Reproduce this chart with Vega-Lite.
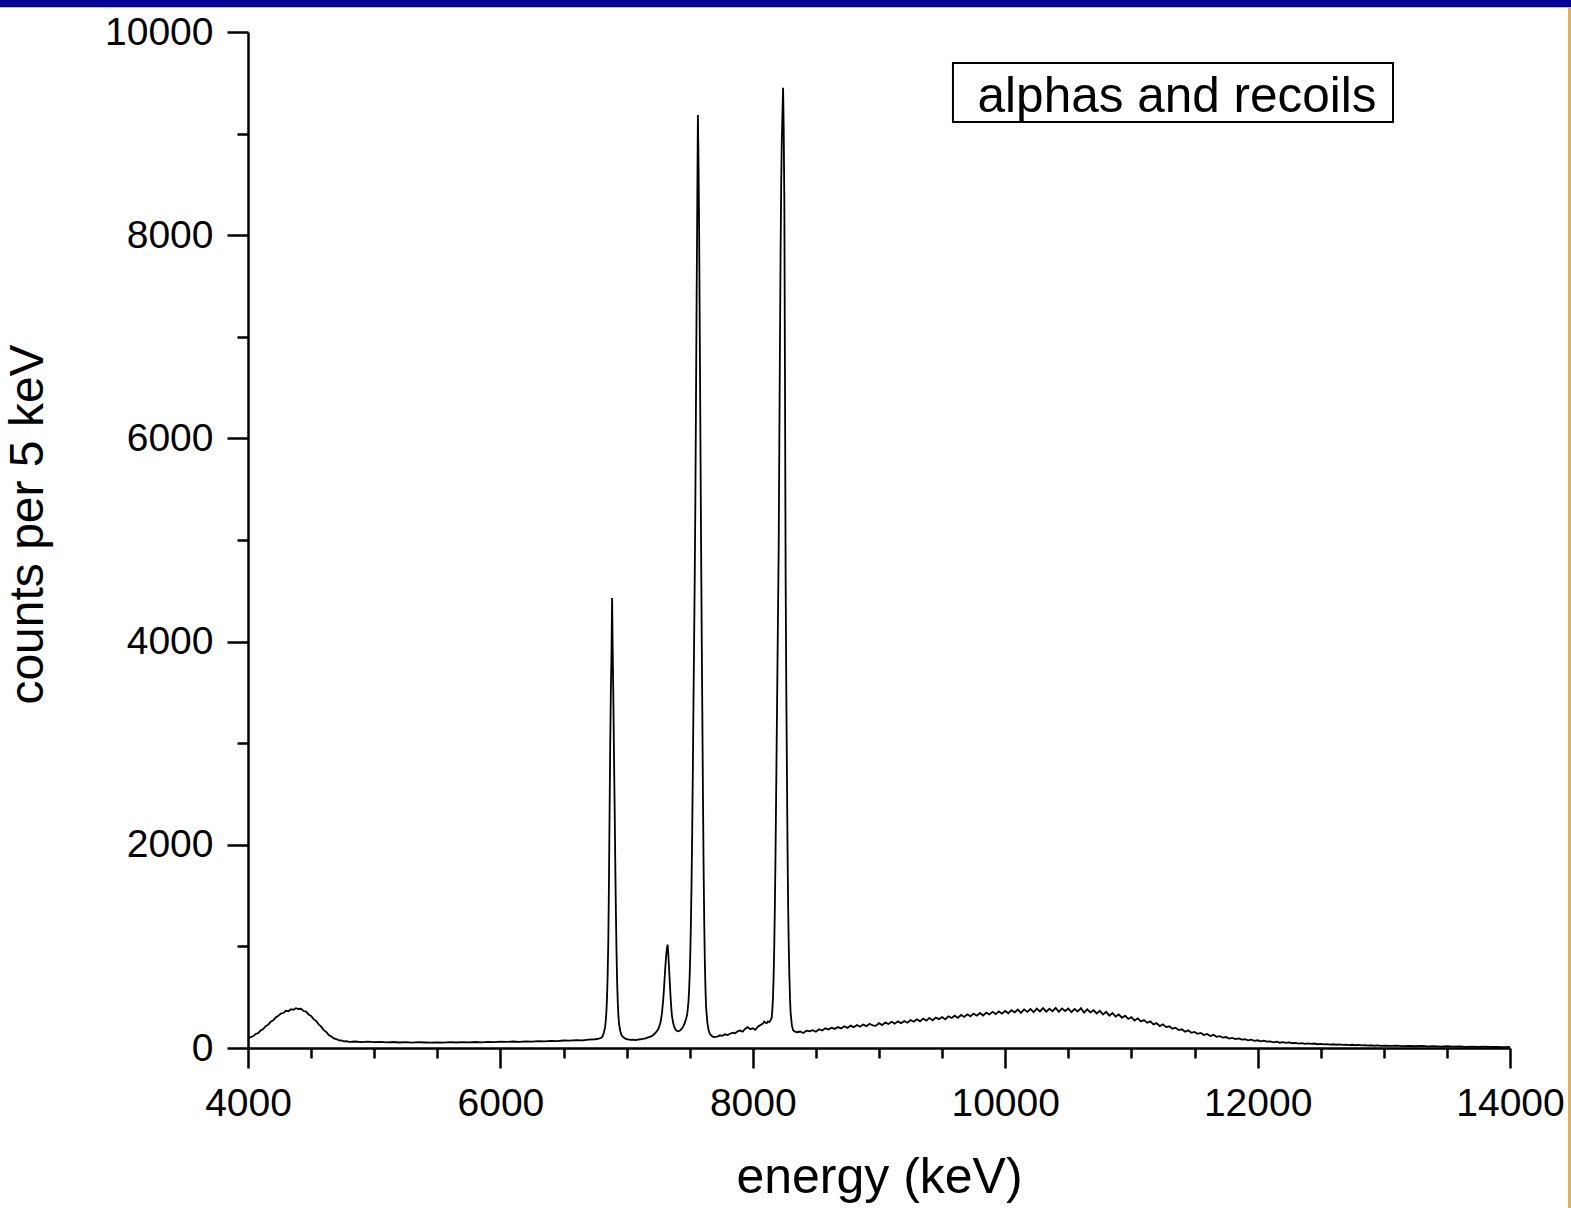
{
"$schema": "https://vega.github.io/schema/vega-lite/v6.json",
"width": 1262,
"height": 1016,
"autosize": {"type": "none"},
"padding": {"left": 248, "top": 32, "right": 61, "bottom": 160},
"background": "white",
"config": {"view": {"stroke": null}, "font": "Liberation Sans"},
"datasets": {
"note": [{"label": "alphas and recoils"}],
"spectrum": [
{"e":4000,"c":92},{"e":4020,"c":108},{"e":4040,"c":115},{"e":4060,"c":138},{"e":4080,"c":146},{"e":4100,"c":172},{"e":4120,"c":186},{"e":4140,"c":214},{"e":4160,"c":230},{"e":4180,"c":258},{"e":4200,"c":272},{"e":4220,"c":301},{"e":4240,"c":316},{"e":4260,"c":338},{"e":4280,"c":344},{"e":4300,"c":366},{"e":4320,"c":362},{"e":4340,"c":382},{"e":4360,"c":376},{"e":4380,"c":392},{"e":4400,"c":384},{"e":4420,"c":386},{"e":4440,"c":364},{"e":4460,"c":358},{"e":4480,"c":330},{"e":4500,"c":316},{"e":4520,"c":284},{"e":4540,"c":266},{"e":4560,"c":232},{"e":4580,"c":210},{"e":4600,"c":176},{"e":4620,"c":158},{"e":4640,"c":128},{"e":4660,"c":114},{"e":4680,"c":95},{"e":4700,"c":88},{"e":4720,"c":76},{"e":4740,"c":74},{"e":4760,"c":66},{"e":4780,"c":68},{"e":4800,"c":61},
{"e":4850,"c":64},{"e":4900,"c":58},{"e":4950,"c":62},{"e":5000,"c":57},{"e":5050,"c":60},{"e":5100,"c":55},{"e":5150,"c":59},{"e":5200,"c":54},{"e":5250,"c":58},{"e":5300,"c":53},{"e":5350,"c":57},{"e":5400,"c":54},{"e":5450,"c":52},{"e":5500,"c":56},{"e":5550,"c":53},{"e":5600,"c":57},{"e":5650,"c":54},{"e":5700,"c":58},{"e":5750,"c":55},{"e":5800,"c":59},{"e":5850,"c":56},{"e":5900,"c":61},{"e":5950,"c":58},{"e":6000,"c":62},{"e":6050,"c":60},{"e":6100,"c":64},{"e":6150,"c":61},{"e":6200,"c":66},{"e":6250,"c":63},{"e":6300,"c":68},{"e":6350,"c":66},{"e":6400,"c":71},{"e":6450,"c":68},{"e":6500,"c":74},{"e":6550,"c":72},{"e":6600,"c":78},{"e":6650,"c":75},{"e":6700,"c":82},{"e":6750,"c":86},{"e":6780,"c":92},{"e":6800,"c":100},{"e":6810,"c":115},{"e":6820,"c":150},
{"e":6830,"c":210},{"e":6835,"c":270},{"e":6840,"c":360},{"e":6845,"c":500},{"e":6850,"c":720},{"e":6855,"c":1050},{"e":6860,"c":1600},{"e":6865,"c":2300},{"e":6870,"c":2950},{"e":6875,"c":3500},{"e":6880,"c":3850},{"e":6885,"c":4430},{"e":6890,"c":3900},{"e":6895,"c":3450},{"e":6900,"c":2900},{"e":6905,"c":2400},{"e":6910,"c":1850},{"e":6915,"c":1350},{"e":6920,"c":950},{"e":6925,"c":650},{"e":6930,"c":450},{"e":6935,"c":320},{"e":6940,"c":240},{"e":6950,"c":165},{"e":6960,"c":125},{"e":6975,"c":105},
{"e":6990,"c":92},{"e":7010,"c":84},{"e":7030,"c":80},{"e":7050,"c":83},{"e":7070,"c":78},{"e":7090,"c":82},{"e":7110,"c":86},{"e":7130,"c":90},{"e":7150,"c":95},{"e":7170,"c":104},{"e":7190,"c":112},{"e":7210,"c":126},{"e":7230,"c":150},{"e":7250,"c":185},{"e":7260,"c":215},{"e":7270,"c":260},{"e":7280,"c":340},{"e":7290,"c":470},{"e":7295,"c":560},{"e":7300,"c":660},{"e":7305,"c":760},{"e":7310,"c":850},{"e":7315,"c":930},{"e":7320,"c":980},{"e":7325,"c":1018},{"e":7330,"c":930},{"e":7335,"c":820},{"e":7340,"c":700},{"e":7345,"c":580},{"e":7350,"c":470},{"e":7355,"c":380},{"e":7360,"c":310},{"e":7370,"c":240},{"e":7380,"c":200},{"e":7390,"c":178},{"e":7400,"c":168},{"e":7410,"c":165},{"e":7420,"c":170},{"e":7430,"c":180},{"e":7440,"c":195},{"e":7450,"c":215},{"e":7460,"c":245},{"e":7470,"c":280},
{"e":7480,"c":330},{"e":7490,"c":450},{"e":7495,"c":560},{"e":7500,"c":720},{"e":7505,"c":950},{"e":7510,"c":1250},{"e":7515,"c":1650},{"e":7520,"c":2150},{"e":7525,"c":2750},{"e":7530,"c":3400},{"e":7535,"c":4000},{"e":7540,"c":4650},{"e":7545,"c":5400},{"e":7550,"c":6400},{"e":7555,"c":7400},{"e":7560,"c":8300},{"e":7565,"c":9183},{"e":7570,"c":8700},{"e":7575,"c":8000},{"e":7580,"c":7000},{"e":7585,"c":6000},{"e":7590,"c":5000},{"e":7595,"c":4100},{"e":7600,"c":3300},{"e":7605,"c":2500},{"e":7610,"c":1800},{"e":7615,"c":1250},{"e":7620,"c":850},{"e":7625,"c":580},{"e":7630,"c":400},{"e":7640,"c":250},{"e":7650,"c":175},{"e":7660,"c":140},{"e":7675,"c":118},{"e":7690,"c":108},
{"e":7700,"c":110},{"e":7720,"c":112},{"e":7740,"c":125},{"e":7760,"c":120},{"e":7780,"c":135},{"e":7800,"c":128},{"e":7820,"c":140},{"e":7840,"c":150},{"e":7860,"c":145},{"e":7880,"c":165},{"e":7900,"c":172},{"e":7920,"c":160},{"e":7940,"c":190},{"e":7960,"c":205},{"e":7980,"c":185},{"e":8000,"c":195},{"e":8020,"c":180},{"e":8040,"c":210},{"e":8060,"c":225},{"e":8080,"c":240},{"e":8090,"c":260},
{"e":8100,"c":250},{"e":8110,"c":245},{"e":8120,"c":262},{"e":8130,"c":255},{"e":8140,"c":270},{"e":8150,"c":300},{"e":8155,"c":380},{"e":8160,"c":500},{"e":8165,"c":700},{"e":8170,"c":1000},{"e":8175,"c":1400},{"e":8180,"c":1900},{"e":8185,"c":2500},{"e":8190,"c":3100},{"e":8195,"c":3700},{"e":8200,"c":4300},{"e":8205,"c":4900},{"e":8210,"c":5900},{"e":8215,"c":6900},{"e":8220,"c":7800},{"e":8225,"c":8500},{"e":8230,"c":8950},{"e":8235,"c":9200},{"e":8240,"c":9450},{"e":8245,"c":9050},{"e":8250,"c":8300},{"e":8255,"c":6600},{"e":8260,"c":4700},{"e":8265,"c":3600},{"e":8270,"c":2800},{"e":8275,"c":2000},{"e":8280,"c":1400},{"e":8285,"c":1000},{"e":8290,"c":700},{"e":8295,"c":480},{"e":8300,"c":340},{"e":8310,"c":220},{"e":8320,"c":175},{"e":8335,"c":160},{"e":8350,"c":155},
{"e":8375,"c":162},{"e":8400,"c":148},{"e":8425,"c":170},{"e":8450,"c":165},{"e":8475,"c":176},{"e":8500,"c":160},{"e":8525,"c":185},{"e":8550,"c":172},{"e":8575,"c":195},{"e":8600,"c":183},
{"e":8625,"c":200},{"e":8650,"c":188},{"e":8675,"c":206},{"e":8700,"c":193},{"e":8725,"c":214},{"e":8750,"c":198},{"e":8775,"c":220},{"e":8800,"c":205},
{"e":8825,"c":226},{"e":8850,"c":209},{"e":8875,"c":231},{"e":8900,"c":215},{"e":8925,"c":238},{"e":8950,"c":222},{"e":8975,"c":218},{"e":9000,"c":245},
{"e":9025,"c":226},{"e":9050,"c":250},{"e":9075,"c":236},{"e":9100,"c":258},{"e":9125,"c":240},{"e":9150,"c":262},{"e":9175,"c":244},{"e":9200,"c":266},
{"e":9225,"c":249},{"e":9250,"c":275},{"e":9275,"c":258},{"e":9300,"c":282},{"e":9325,"c":262},{"e":9350,"c":290},{"e":9375,"c":270},{"e":9400,"c":296},
{"e":9425,"c":272},{"e":9450,"c":300},{"e":9475,"c":284},{"e":9500,"c":305},{"e":9525,"c":282},{"e":9550,"c":312},{"e":9575,"c":295},{"e":9600,"c":318},
{"e":9625,"c":296},{"e":9650,"c":325},{"e":9675,"c":306},{"e":9700,"c":332},{"e":9725,"c":312},{"e":9750,"c":338},{"e":9775,"c":318},{"e":9800,"c":345},
{"e":9825,"c":320},{"e":9850,"c":348},{"e":9875,"c":330},{"e":9900,"c":356},{"e":9925,"c":334},{"e":9950,"c":360},{"e":9975,"c":338},{"e":10000,"c":365},
{"e":10025,"c":342},{"e":10050,"c":372},{"e":10075,"c":350},{"e":10100,"c":378},{"e":10125,"c":346},{"e":10150,"c":380},{"e":10175,"c":355},{"e":10200,"c":384},
{"e":10225,"c":352},{"e":10250,"c":388},{"e":10275,"c":360},{"e":10300,"c":392},{"e":10325,"c":358},{"e":10350,"c":386},{"e":10375,"c":362},{"e":10400,"c":395},
{"e":10425,"c":356},{"e":10450,"c":390},{"e":10475,"c":364},{"e":10500,"c":388},{"e":10525,"c":352},{"e":10550,"c":384},{"e":10575,"c":360},{"e":10600,"c":392},
{"e":10625,"c":348},{"e":10650,"c":380},{"e":10675,"c":350},{"e":10700,"c":372},{"e":10725,"c":340},{"e":10750,"c":366},{"e":10775,"c":330},{"e":10800,"c":356},
{"e":10825,"c":318},{"e":10850,"c":345},{"e":10875,"c":310},{"e":10900,"c":330},{"e":10925,"c":298},{"e":10950,"c":318},{"e":10975,"c":286},{"e":11000,"c":304},
{"e":11025,"c":270},{"e":11050,"c":292},{"e":11075,"c":262},{"e":11100,"c":276},{"e":11125,"c":248},{"e":11150,"c":262},{"e":11175,"c":232},{"e":11200,"c":246},
{"e":11225,"c":215},{"e":11250,"c":232},{"e":11275,"c":206},{"e":11300,"c":214},{"e":11325,"c":190},{"e":11350,"c":200},{"e":11375,"c":176},{"e":11400,"c":184},
{"e":11425,"c":160},{"e":11450,"c":174},{"e":11475,"c":150},{"e":11500,"c":158},{"e":11525,"c":140},{"e":11550,"c":148},{"e":11575,"c":128},{"e":11600,"c":138},
{"e":11625,"c":118},{"e":11650,"c":130},{"e":11675,"c":110},{"e":11700,"c":116},{"e":11725,"c":102},{"e":11750,"c":108},{"e":11775,"c":92},{"e":11800,"c":100},
{"e":11825,"c":88},{"e":11850,"c":95},{"e":11875,"c":82},{"e":11900,"c":86},{"e":11925,"c":76},{"e":11950,"c":82},{"e":11975,"c":70},{"e":12000,"c":76},
{"e":12025,"c":66},{"e":12050,"c":72},{"e":12075,"c":62},{"e":12100,"c":64},{"e":12125,"c":56},{"e":12150,"c":62},{"e":12175,"c":52},{"e":12200,"c":57},
{"e":12225,"c":50},{"e":12250,"c":55},{"e":12275,"c":47},{"e":12300,"c":50},{"e":12325,"c":44},{"e":12350,"c":48},{"e":12375,"c":41},{"e":12400,"c":45},
{"e":12425,"c":40},{"e":12450,"c":44},{"e":12475,"c":37},{"e":12500,"c":41},{"e":12525,"c":35},{"e":12550,"c":39},{"e":12575,"c":33},{"e":12600,"c":37},
{"e":12625,"c":32},{"e":12650,"c":36},{"e":12675,"c":30},{"e":12700,"c":33},{"e":12725,"c":28},{"e":12750,"c":32},{"e":12775,"c":27},{"e":12800,"c":30},
{"e":12825,"c":26},{"e":12850,"c":29},{"e":12875,"c":24},{"e":12900,"c":27},{"e":12925,"c":22},{"e":12950,"c":26},{"e":12975,"c":21},{"e":13000,"c":24},
{"e":13050,"c":20},{"e":13100,"c":23},{"e":13150,"c":18},{"e":13200,"c":21},{"e":13250,"c":17},{"e":13300,"c":20},{"e":13350,"c":16},{"e":13400,"c":18},
{"e":13450,"c":14},{"e":13500,"c":17},{"e":13550,"c":13},{"e":13600,"c":15},{"e":13650,"c":12},{"e":13700,"c":14},{"e":13750,"c":11},{"e":13800,"c":13},{"e":13850,"c":10},{"e":13900,"c":12},{"e":13950,"c":9},{"e":14000,"c":11}
]
},
"layer": [
{
"data": {"name": "spectrum"},
"mark": {"type": "line", "color": "black", "strokeWidth": 1.8, "interpolate": "linear"},
"encoding": {
"x": {"field": "e", "type": "quantitative", "scale": {"domain": [4000, 14000], "nice": false, "zero": false},
"axis": {"values": [4000,4500,5000,5500,6000,6500,7000,7500,8000,8500,9000,9500,10000,10500,11000,11500,12000,12500,13000,13500,14000],
"format": "d", "labelExpr": "datum.value % 2000 === 0 ? datum.label : ''",
"tickSize": {"condition": {"test": "datum.value % 2000 === 0", "value": 20}, "value": 10},
"tickWidth": 2.5, "tickColor": "black", "domainColor": "black", "domainWidth": 2.5,
"labelFont": "Liberation Sans", "labelFontSize": 39, "labelColor": "black", "labelPadding": 16, "labelOverlap": false, "labelFlush": false,
"grid": false, "title": "energy (keV)", "titleFont": "Liberation Sans", "titleFontSize": 50, "titleFontWeight": "normal", "titleColor": "black", "titlePadding": 29}},
"y": {"field": "c", "type": "quantitative", "scale": {"domain": [0, 10000], "nice": false},
"axis": {"values": [0,1000,2000,3000,4000,5000,6000,7000,8000,9000,10000],
"format": "d", "labelExpr": "datum.value % 2000 === 0 ? datum.label : ''",
"tickSize": {"condition": {"test": "datum.value % 2000 === 0", "value": 21}, "value": 11},
"tickWidth": 2.5, "tickColor": "black", "domainColor": "black", "domainWidth": 2.5,
"labelFont": "Liberation Sans", "labelFontSize": 39, "labelColor": "black", "labelPadding": 14, "labelOverlap": false, "labelFlush": false,
"grid": false, "title": "counts per 5 keV", "titleFont": "Liberation Sans", "titleFontSize": 48, "titleFontWeight": "normal", "titleColor": "black", "titlePadding": 52, "titleY": 492}}
}
},
{
"data": {"name": "note"},
"mark": {"type": "rect", "fill": "white", "stroke": "black", "strokeWidth": 2},
"encoding": {"x": {"datum": 9586, "type": "quantitative", "title": "energy (keV)"}, "x2": {"datum": 13073}, "y": {"datum": 9695, "type": "quantitative", "title": "counts per 5 keV"}, "y2": {"datum": 9114}}
},
{
"data": {"name": "note"},
"mark": {"type": "text", "font": "Liberation Sans", "fontSize": 49.5, "align": "center", "baseline": "alphabetic", "color": "black"},
"encoding": {"x": {"datum": 11362, "type": "quantitative", "title": "energy (keV)"}, "y": {"datum": 9213, "type": "quantitative", "title": "counts per 5 keV"}, "text": {"field": "label"}}
},
{
"data": {"name": "note"},
"mark": {"type": "rect", "fill": "#000099"},
"encoding": {"x": {"datum": 1900, "type": "quantitative", "title": "energy (keV)"}, "x2": {"datum": 14700}, "y": {"datum": 10243, "type": "quantitative", "title": "counts per 5 keV"}, "y2": {"datum": 10500}}
},
{
"data": {"name": "note"},
"mark": {"type": "rect", "fill": "#dcb257"},
"encoding": {"x": {"datum": 14460, "type": "quantitative", "title": "energy (keV)"}, "x2": {"datum": 14700}, "y": {"datum": 10243, "type": "quantitative", "title": "counts per 5 keV"}, "y2": {"datum": -2500}}
}
]
}
